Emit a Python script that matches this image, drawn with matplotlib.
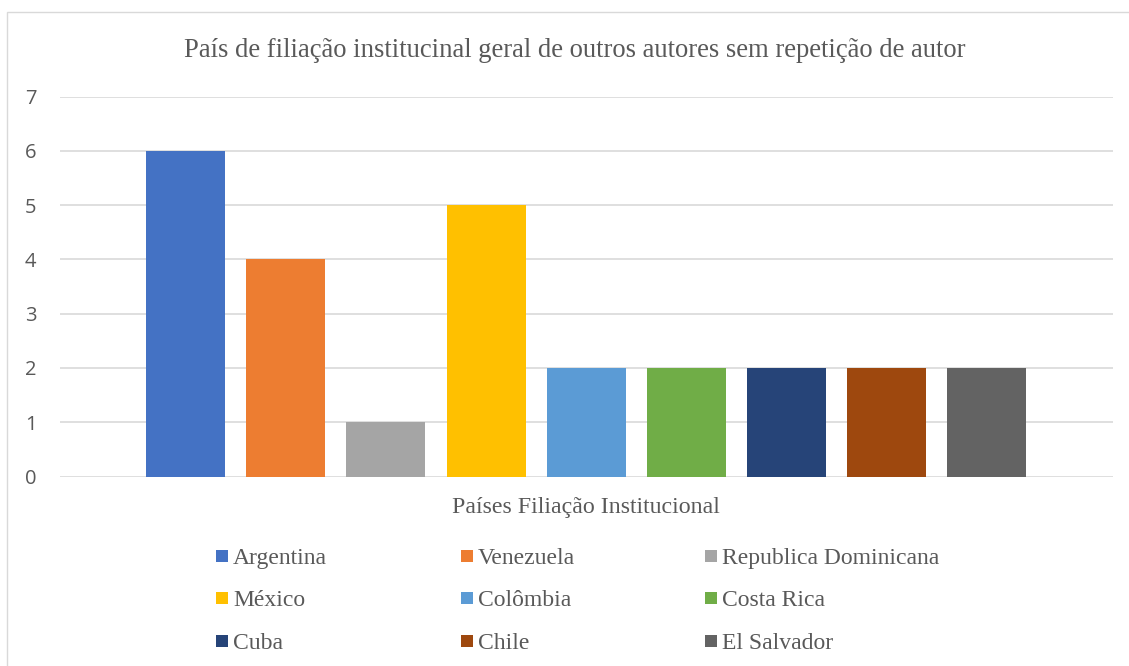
import matplotlib
matplotlib.use("Agg")
import matplotlib.pyplot as plt
from matplotlib.patches import Rectangle

countries = ["Argentina", "Venezuela", "Republica Dominicana", "México", "Colômbia",
             "Costa Rica", "Cuba", "Chile", "El Salvador"]
values = [6, 4, 1, 5, 2, 2, 2, 2, 2]
colors = ["#4472C4", "#ED7D31", "#A5A5A5", "#FFC000", "#5B9BD5",
          "#70AD47", "#264478", "#9E480E", "#636363"]
yticks = [0, 1, 2, 3, 4, 5, 6, 7]
title = "País de filiação institucinal geral de outros autores sem repetição de autor"
xlabel = "Países Filiação Institucional"

W, H = 1129, 666
fig = plt.figure(figsize=(W / 100, H / 100), dpi=100)
serif = ["Liberation Serif", "DejaVu Serif"]
sans = ["Open Sans", "Liberation Sans", "DejaVu Sans"]
txt = "#595959"

# chart border
fig.add_artist(Rectangle((7 / W, -0.05), 1.2, (H - 12) / H + 0.05, transform=fig.transFigure,
                         fill=False, edgecolor="#d9d9d9", linewidth=1.0))

ax = fig.add_axes([60 / W, (H - 476.5) / H, (1112.5 - 60) / W, (476.5 - 96.5) / H])
n = len(values)
pos = [i - (n - 1) / 2 for i in range(n)]
ax.bar(pos, values, width=0.789, color=colors, zorder=3)
ax.set_xlim(-5.255, 5.255)
ax.set_ylim(0, 7)
ax.set_yticks(yticks)
ax.set_yticklabels([str(t) for t in yticks], family=sans, fontsize=14.5, color=txt)
ax.set_xticks([])
ax.grid(axis="y", color="#d9d9d9", linewidth=1.2, zorder=0)
for s in ax.spines.values():
    s.set_visible(False)
ax.tick_params(axis="y", length=0, pad=17)

fig.text(575 / W, 1 - 57.3 / H, title, ha="center", va="baseline", family=serif,
         fontsize=19.2, color=txt)
fig.text(586 / W, 1 - 513.3 / H, xlabel, ha="center", va="baseline", family=serif,
         fontsize=17.2, color=txt)

col_x = [216, 461, 705]
row_y = [556, 598, 641]
for i, (name, c) in enumerate(zip(countries, colors)):
    r, k = divmod(i, 3)
    x0, yc = col_x[k], row_y[r]
    fig.add_artist(Rectangle((x0 / W, 1 - (yc + 6) / H), 12 / W, 12 / H,
                             transform=fig.transFigure, facecolor=c, edgecolor="none"))
    fig.text((x0 + 17) / W, 1 - (yc + 8) / H, name, ha="left", va="baseline", family=serif,
             fontsize=17, color=txt)

fig.savefig("out.png", dpi=100)
